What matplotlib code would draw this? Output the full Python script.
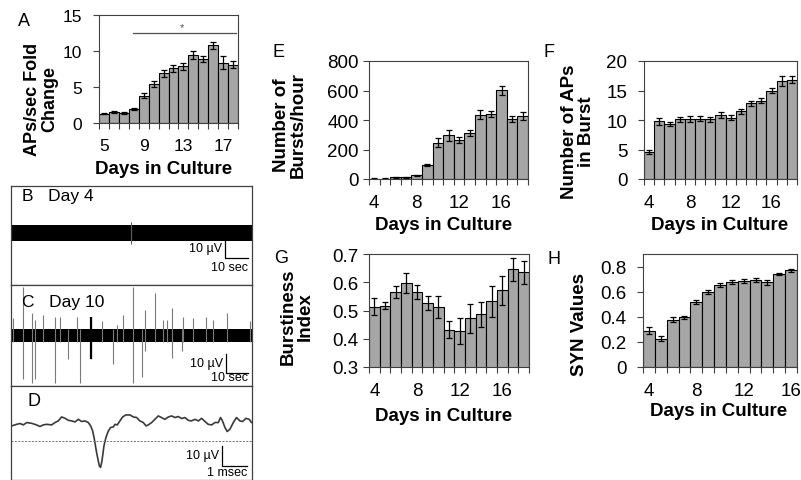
import numpy as np
import matplotlib
matplotlib.use('Agg')
import matplotlib.pyplot as plt

plt.rcParams['font.family'] = ['Liberation Sans', 'DejaVu Sans']

W, H = 801, 481
BAR = '#a6a6a6'
FRAME = '#404040'

# ---- bar chart data ----
days_a = list(range(5, 19))
aps_fold = [1.3, 1.5, 1.4, 2.0, 3.8, 5.4, 6.9, 7.6, 7.9, 9.4, 8.9, 10.8, 8.4, 8.1]
aps_fold_err = [0.1, 0.1, 0.1, 0.15, 0.3, 0.4, 0.5, 0.45, 0.5, 0.55, 0.45, 0.5, 0.95, 0.45]
sig_span = (7.9, 18.3)
sig_level = 12.5

days_e = list(range(4, 19))
bursts = [3, 3, 12, 12, 25, 95, 245, 295, 262, 314, 436, 442, 601, 405, 427]
bursts_err = [2, 2, 3, 3, 5, 10, 30, 35, 20, 20, 30, 20, 30, 20, 25]

aps_burst = [4.6, 9.8, 9.3, 10.1, 10.2, 10.2, 10.1, 10.8, 10.4, 11.5, 12.8, 13.3, 15.0, 16.6, 16.8]
aps_burst_err = [0.3, 0.6, 0.3, 0.4, 0.5, 0.4, 0.4, 0.5, 0.4, 0.4, 0.4, 0.5, 0.5, 0.8, 0.6]

burstiness = [0.513, 0.517, 0.565, 0.597, 0.565, 0.527, 0.512, 0.432, 0.428, 0.472,
              0.486, 0.533, 0.571, 0.646, 0.635]
burstiness_err = [0.03, 0.012, 0.02, 0.035, 0.025, 0.025, 0.04, 0.03, 0.045, 0.05,
                  0.045, 0.055, 0.05, 0.04, 0.04]

days_h = list(range(4, 17))
syn = [0.29, 0.225, 0.375, 0.395, 0.52, 0.60, 0.655, 0.675, 0.685, 0.695, 0.675, 0.74, 0.77]
syn_err = [0.03, 0.02, 0.02, 0.015, 0.015, 0.015, 0.015, 0.015, 0.015, 0.015, 0.02, 0.01, 0.01]

# ---- trace data: B (day 4), C (day 10) in sec / uV, D in msec / uV ----
band_b = 4.2
spike_b_t = [54.5]
spike_b_up = [5.8]
spike_b_down = [5.8]

band_c = 3.7
spike_c_t = [1.0, 5.3, 9.4, 10.9, 14.7, 20.0, 22.3, 26.0, 29.9, 31.4, 36.2, 41.2, 46.5, 48.0,
             51.0, 55.3, 59.4, 60.9, 65.5, 69.2, 70.8, 73.0, 77.6, 78.3, 82.9, 88.6, 92.0,
             98.0, 108.6]
spike_c_up = [9.3, 26, 12, 8.4, 11, 10, 10, 0, 10, 0, 10, 7.5, 0, 5.8,
              11, 26, 0, 13.7, 22.5, 8.4, 8.4, 14.6, 0, 10, 9.3, 10, 8.4,
              12, 7.5]
spike_c_down = [0, 23, 25, 23, 0, 25, 0, 12.6, 0, 25, 12.6, 0, 15, 0,
                0, 25, 22, 8.2, 0, 0, 0, 11.8, 8.2, 0, 0, 0, 0,
                0, 0]

wave_t = [0.03, 0.23, 0.37, 0.50, 0.64, 0.84, 1.04, 1.18, 1.31, 1.45, 1.65, 1.79, 1.92,
          2.06, 2.20, 2.33, 2.47, 2.60, 2.74, 2.87, 3.01, 3.14, 3.24, 3.32, 3.39, 3.48,
          3.59, 3.64, 3.70, 3.78, 3.86, 3.96, 4.05, 4.16, 4.23, 4.32, 4.43, 4.54, 4.67,
          4.84, 4.97, 5.11, 5.24, 5.38, 5.49, 5.58, 5.72, 5.85, 5.99, 6.12, 6.26, 6.40,
          6.53, 6.67, 6.80, 6.94, 7.07, 7.21, 7.34, 7.48, 7.62, 7.75, 7.89, 8.02, 8.16,
          8.29, 8.43, 8.52, 8.60, 8.70, 8.79, 8.90, 9.04, 9.17, 9.31, 9.42, 9.55, 9.69, 9.78]
wave_v = [-2.5, -1.7, -1.3, -2.0, -0.8, -1.2, -2.0, -2.8, -2.0, -1.7, -2.0, -0.8, 0.0,
          2.0, 1.3, 0.3, 0.0, -0.5, 0.8, -0.3, 0.0, -0.8, -2.5, -5.0, -9.2, -15.8,
          -22.5, -23.3, -20.0, -12.5, -8.3, -5.0, -3.3, -3.0, -1.7, -2.0, 0.0, 2.0, 3.0,
          3.0, 2.0, 1.7, 0.0, -0.8, -2.5, -2.0, -0.8, 0.8, 2.5, 1.7, 0.8, 2.0,
          2.5, 1.7, 2.2, 1.2, 1.7, 0.3, 0.0, 0.8, 0.0, 1.3, -0.3, -1.7, -2.0,
          -0.8, -0.8, 1.7, 0.0, -3.3, -5.3, -4.2, -0.8, 1.7, 0.0, -0.3, 1.3, 0.8, -0.8]
threshold = -10.3


def box(l, t, r, b):
    return [l / W, 1 - b / H, (r - l) / W, (b - t) / H]


def ftext(x, y, s, **kw):
    fig.text(x / W, 1 - y / H, s, ha=kw.pop('ha', 'center'), va=kw.pop('va', 'center'), **kw)


def bar_panel(rect, days, vals, errs, ylim, yticks, xlabels, ypad, fs):
    ax = fig.add_axes(rect)
    ax.bar(days, vals, width=1.0, color=BAR, edgecolor='black', linewidth=0.8,
           yerr=errs, capsize=2.5,
           error_kw=dict(elinewidth=0.9, capthick=0.9, ecolor='black'), zorder=2)
    ax.set_xlim(days[0] - 0.5, days[-1] + 0.5)
    ax.set_ylim(*ylim)
    ax.set_yticks(yticks)
    ax.set_yticklabels(['%g' % v for v in yticks], fontsize=fs)
    ax.set_xticks(np.arange(days[0] - 0.5, days[-1] + 1))
    ax.set_xticklabels([])
    ax.set_xticks(xlabels, minor=True)
    ax.set_xticklabels([str(d) for d in xlabels], minor=True, fontsize=fs)
    ax.tick_params(axis='x', which='major', direction='out', length=4.5, width=0.8, color=FRAME)
    ax.tick_params(axis='x', which='minor', length=0, pad=11)
    ax.tick_params(axis='y', direction='out', length=4, width=0.8, color=FRAME, pad=ypad)
    for sp in ax.spines.values():
        sp.set_color(FRAME)
        sp.set_linewidth(0.8)
    return ax


def trace_frame(rect, xlim, ylim):
    ax = fig.add_axes(rect)
    ax.set_xlim(*xlim)
    ax.set_ylim(*ylim)
    ax.set_xticks([])
    ax.set_yticks([])
    for sp in ax.spines.values():
        sp.set_color(FRAME)
        sp.set_linewidth(0.9)
    return ax


def scale_bar(ax, x0, y0, dx, dy, ylab, xlab, xlab_y):
    ax.plot([x0, x0, x0 + dx], [y0 + dy, y0, y0], color='black', lw=0.9)
    ax.text(x0 - dx * 0.15, y0 + dy * 0.55, ylab, ha='right', va='center', fontsize=9)
    ax.text(x0 + dx, xlab_y, xlab, ha='right', va='center', fontsize=9)


fig = plt.figure(figsize=(W / 100, H / 100), dpi=100)

# A
ax_a = bar_panel(box(99, 16, 238, 124), days_a, aps_fold, aps_fold_err,
                 (0, 15), [0, 5, 10, 15], [5, 9, 13, 17], 8, 12.5)
ax_a.plot(sig_span, [sig_level, sig_level], color='#505050', lw=0.9, clip_on=False)
ax_a.text(np.mean(sig_span) - 0.2, sig_level + 1.5, '*', ha='center', va='top',
          fontsize=8, color='#505050')
ftext(24, 22, 'A', fontsize=13)
ftext(41, 99, 'APs/sec Fold\nChange', rotation=90, fontsize=13, fontweight='bold',
      multialignment='center', linespacing=1.0)
ftext(164, 170, 'Days in Culture', fontsize=13.5, fontweight='bold')

# E
bar_panel(box(369, 62, 528, 180), days_e, bursts, bursts_err,
          (0, 800), [0, 200, 400, 600, 800], [4, 8, 12, 16], 3.5, 13.5)
ftext(278, 53, 'E', fontsize=13)
ftext(290, 125, 'Number of\nBursts/hour', rotation=90, fontsize=13.5, fontweight='bold',
      multialignment='center', linespacing=1.0)
ftext(444, 226, 'Days in Culture', fontsize=13.5, fontweight='bold')

# F
bar_panel(box(644, 62, 797, 180), days_e, aps_burst, aps_burst_err,
          (0, 20), [0, 5, 10, 15, 20], [4, 8, 12, 16], 8, 13.5)
ftext(549, 53, 'F', fontsize=13)
ftext(578, 132, 'Number of APs\nin Burst', rotation=90, fontsize=13.5, fontweight='bold',
      multialignment='center', linespacing=1.0)
ftext(720, 226, 'Days in Culture', fontsize=13.5, fontweight='bold')

# G
bar_panel(box(369, 255, 529, 368), days_e, burstiness, burstiness_err,
          (0.3, 0.7), [0.3, 0.4, 0.5, 0.6, 0.7], [4, 8, 12, 16], 3.5, 13.5)
ftext(281, 259, 'G', fontsize=13)
ftext(297, 317, 'Burstiness\nIndex', rotation=90, fontsize=13.5, fontweight='bold',
      multialignment='center', linespacing=1.0)
ftext(444, 417, 'Days in Culture', fontsize=13.5, fontweight='bold')

# H
bar_panel(box(643, 255, 797, 368), days_h, syn, syn_err,
          (0, 0.9), [0, 0.2, 0.4, 0.6, 0.8], [4, 8, 12, 16], 8, 13.5)
ftext(554, 260, 'H', fontsize=13)
ftext(579, 325, 'SYN Values', rotation=90, fontsize=13.5, fontweight='bold')
ftext(719, 412, 'Days in Culture', fontsize=13.5, fontweight='bold')

# B trace
ax_b = trace_frame(box(11, 187, 252, 286), (0, 109.5), (-27.4, 24.7))
ax_b.fill_between([0, 109.5], -band_b, band_b, color='black', lw=0)
ax_b.vlines(spike_b_t, [-d for d in spike_b_down], spike_b_up, color='#606060', lw=0.8)
scale_bar(ax_b, 97.3, -13.2, 10.4, 10, '10 µV', '10 sec', -17.9)
ax_b.text(0.045, 0.9, 'B   Day 4', transform=ax_b.transAxes, fontsize=12.5,
          ha='left', va='center')

# C trace
ax_c = trace_frame(box(11, 286, 252, 387), (0, 109.5), (-26.8, 26.8))
ax_c.vlines(spike_c_t, [-max(d, band_c) for d in spike_c_down],
            [max(u, band_c) for u in spike_c_up], color='#7a7a7a', lw=0.8)
ax_c.fill_between([0, 109.5], -band_c, band_c, color='black', lw=0)
ax_c.vlines([36.2], [-12.6], [10], color='black', lw=1.6)
scale_bar(ax_c, 97.7, -20, 10, 10, '10 µV', '10 sec', -21.8)
ax_c.text(0.045, 0.84, 'C   Day 10', transform=ax_c.transAxes, fontsize=12.5,
          ha='left', va='center')

# D waveform
ax_d = trace_frame(box(11, 387, 252, 481), (0, 9.8), (-29.6, 17.5))
ax_d.plot(wave_t, wave_v, color='#3a3a3a', lw=1.2)
ax_d.axhline(threshold, color='#707070', lw=0.7, ls=(0, (2, 1.5)))
scale_bar(ax_d, 8.6, -22.5, 1.0, 10, '10 µV', '1 msec', -25.8)
ax_d.text(0.07, 0.85, 'D', transform=ax_d.transAxes, fontsize=13, ha='left', va='center')

fig.savefig('out.png', dpi=100)
